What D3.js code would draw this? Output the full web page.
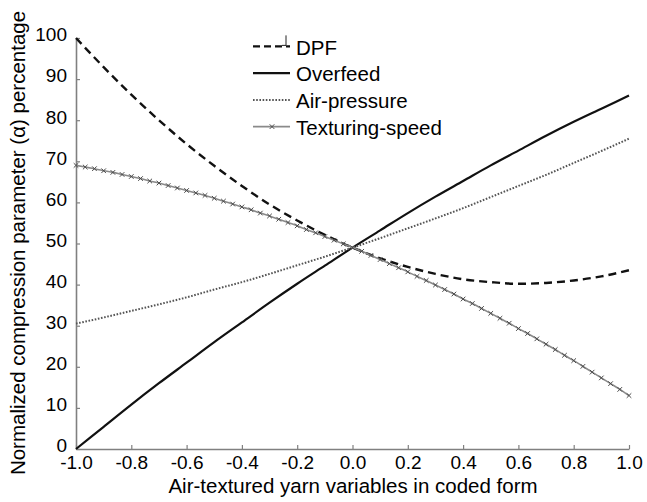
<!DOCTYPE html>
<html>
<head>
<meta charset="utf-8">
<script src="https://cdn.jsdelivr.net/npm/d3@7"></script>
<style>
  body { margin: 0; background: #fff; }
  svg { display: block; font-family: 'Liberation Sans', Arial, sans-serif; }
</style>
</head>
<body>
<div id="chart"></div>
<script>
// coded x levels (step 0.1) shared by the three smooth curves
const xLevels = [-1.0, -0.9, -0.8, -0.7, -0.6, -0.5, -0.4, -0.3, -0.2, -0.1, 0.0,
  0.1, 0.2, 0.3, 0.4, 0.5, 0.6, 0.7, 0.8, 0.9, 1.0]

const dpf = [100, 92.9, 86.2, 80.0, 74.2, 68.9, 64.0, 59.5, 55.6, 52.1, 49.0,
  46.4, 44.3, 42.6, 41.3, 40.6, 40.2, 40.4, 41.0, 42.0, 43.5]
const overfeed = [0, 5.4, 10.8, 16.0, 21.0, 26.0, 30.8, 35.6, 40.2, 44.6, 49.0,
  53.2, 57.4, 61.4, 65.2, 69.0, 72.6, 76.2, 79.6, 82.8, 86.0]
const airPressure = [30.5, 32.0, 33.6, 35.2, 36.9, 38.8, 40.6, 42.6, 44.7, 46.8, 49.0,
  51.3, 53.7, 56.1, 58.6, 61.3, 64.0, 66.7, 69.6, 72.5, 75.5]

// texturing-speed is plotted with a marker at every 1/30 step
const texturingSpeed = [69.0, 68.6, 68.2, 67.7, 67.3, 66.8, 66.3, 65.8, 65.2, 64.7,
  64.1, 63.5, 62.9, 62.3, 61.7, 61.0, 60.3, 59.6, 58.9, 58.2,
  57.4, 56.7, 55.9, 55.1, 54.3, 53.4, 52.6, 51.7, 50.8, 49.9,
  49.0, 48.1, 47.1, 46.1, 45.1, 44.1, 43.1, 42.0, 41.0, 39.9,
  38.8, 37.7, 36.5, 35.4, 34.2, 33.0, 31.8, 30.6, 29.3, 28.1,
  26.8, 25.5, 24.2, 22.8, 21.5, 20.1, 18.7, 17.3, 15.9, 14.5, 13.0]
const texturingX = texturingSpeed.map((d, i) => -1 + i / 30)

const xTicks = [-1.0, -0.8, -0.6, -0.4, -0.2, 0.0, 0.2, 0.4, 0.6, 0.8, 1.0]
const yTicks = [0, 10, 20, 30, 40, 50, 60, 70, 80, 90, 100]

const seriesNames = ['DPF', 'Overfeed', 'Air-pressure', 'Texturing-speed']

const width = 647
const height = 502

const svg = d3
  .select('#chart')
  .append('svg')
  .attr('width', width)
  .attr('height', height)

const xPositionScale = d3.scaleLinear().domain([-1, 1]).range([76, 629])
const yPositionScale = d3.scaleLinear().domain([0, 100]).range([449, 38])

const axisColor = '#808080'

// axes, ticks point inwards
const xAxis = d3.axisBottom(xPositionScale)
  .tickValues(xTicks)
  .tickSizeInner(-4)
  .tickSizeOuter(0)
  .tickPadding(6)
  .tickFormat(d => d.toFixed(1))

const yAxis = d3.axisLeft(yPositionScale)
  .tickValues(yTicks)
  .tickSizeInner(-4)
  .tickSizeOuter(0)
  .tickPadding(9)
  .tickFormat(d3.format('d'))

const gx = svg.append('g')
  .attr('class', 'x-axis')
  .attr('transform', 'translate(0,449)')
  .call(xAxis)

const gy = svg.append('g')
  .attr('class', 'y-axis')
  .attr('transform', 'translate(76,0)')
  .call(yAxis)

svg.selectAll('.domain').attr('stroke', axisColor).attr('stroke-width', 1.6)
svg.selectAll('.tick line').attr('stroke', axisColor).attr('stroke-width', 1.2)
svg.selectAll('.tick text')
  .attr('fill', '#000')
  .attr('font-size', 19)
  .attr('font-family', "'Liberation Sans', Arial, sans-serif")
gy.selectAll('.tick text').attr('dy', '0.15em')
gx.selectAll('.tick text').attr('dy', '0.75em')

// axis titles
svg.append('text')
  .attr('x', 353)
  .attr('y', 493)
  .attr('text-anchor', 'middle')
  .attr('font-size', 20.5)
  .text('Air-textured yarn variables in coded form')

svg.append('text')
  .attr('transform', 'translate(25,243) rotate(-90)')
  .attr('text-anchor', 'middle')
  .attr('font-size', 20.5)
  .text('Normalized compression parameter (\u03b1) percentage')

const line = d3.line()
  .x(d => xPositionScale(d[0]))
  .y(d => yPositionScale(d[1]))
  .curve(d3.curveMonotoneX)

const styles = {
  'DPF': { stroke: '#111', width: 2.4, dash: '8,5' },
  'Overfeed': { stroke: '#111', width: 2.2, dash: null },
  'Air-pressure': { stroke: '#555', width: 2, dash: '1.6,1.6' },
  'Texturing-speed': { stroke: '#8a8a8a', width: 1.6, dash: null }
}

const curves = [
  { name: 'DPF', points: xLevels.map((x, i) => [x, dpf[i]]) },
  { name: 'Overfeed', points: xLevels.map((x, i) => [x, overfeed[i]]) },
  { name: 'Air-pressure', points: xLevels.map((x, i) => [x, airPressure[i]]) },
  { name: 'Texturing-speed', points: texturingX.map((x, i) => [x, texturingSpeed[i]]) }
]

svg.selectAll('.curve')
  .data(curves)
  .enter()
  .append('path')
  .attr('class', 'curve')
  .attr('d', d => line(d.points))
  .attr('fill', 'none')
  .attr('stroke', d => styles[d.name].stroke)
  .attr('stroke-width', d => styles[d.name].width)
  .attr('stroke-dasharray', d => styles[d.name].dash)

// x markers on texturing-speed
function xMark(sel, s) {
  sel.append('path')
    .attr('d', `M${-s},${-s}L${s},${s}M${-s},${s}L${s},${-s}`)
    .attr('stroke', '#4a4a4a')
    .attr('stroke-width', 1)
    .attr('fill', 'none')
}

svg.selectAll('.mark')
  .data(curves[3].points)
  .enter()
  .append('g')
  .attr('class', 'mark')
  .attr('transform', d => `translate(${xPositionScale(d[0])},${yPositionScale(d[1])})`)
  .call(xMark, 2.3)

// legend
const legend = svg.append('g').attr('class', 'legend')
const rowY = d3.scaleBand().domain(seriesNames).range([33, 140])

seriesNames.forEach(name => {
  const y = rowY(name) + rowY.bandwidth() / 2
  const st = styles[name]
  legend.append('line')
    .attr('x1', 253)
    .attr('x2', 290)
    .attr('y1', y)
    .attr('y2', y)
    .attr('stroke', st.stroke)
    .attr('stroke-width', st.width)
    .attr('stroke-dasharray', name === 'DPF' ? '7,4' : st.dash)
  if (name === 'Texturing-speed') {
    legend.append('g')
      .attr('transform', `translate(272,${y})`)
      .call(xMark, 2.3)
  }
  if (name === 'DPF') {
    // the small hook after the dashes
    legend.append('path')
      .attr('d', `M282,${y - 1}L286,${y - 1}L286,${y - 11}`)
      .attr('stroke', '#222')
      .attr('stroke-width', 1)
      .attr('fill', 'none')
  }
  legend.append('text')
    .attr('x', 296)
    .attr('y', y + 1)
    .attr('dy', '0.35em')
    .attr('font-size', 20.5)
    .text(name)
})
</script>
</body>
</html>
